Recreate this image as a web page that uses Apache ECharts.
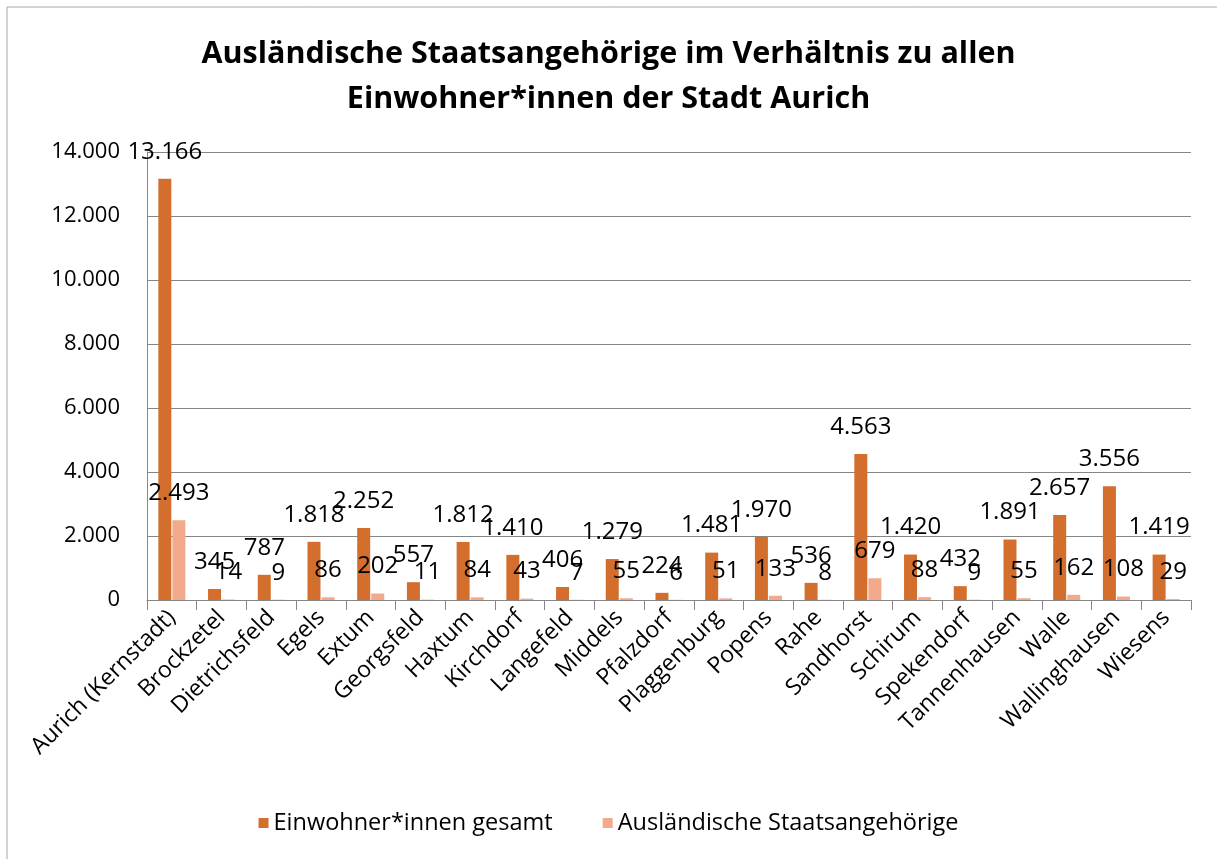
<!DOCTYPE html>
<html><head><meta charset="utf-8">
<script src="https://cdn.jsdelivr.net/npm/echarts@6/dist/echarts.min.js"></script>
<style>html,body{margin:0;padding:0;background:#fff;}#c{width:1217px;height:859px;}</style>
</head><body><div id="c"></div>
<script>
const categories = ["Aurich (Kernstadt)","Brockzetel","Dietrichsfeld","Egels","Extum","Georgsfeld","Haxtum","Kirchdorf","Langefeld","Middels","Pfalzdorf","Plaggenburg","Popens","Rahe","Sandhorst","Schirum","Spekendorf","Tannenhausen","Walle","Wallinghausen","Wiesens"];
const einwohner = [13166,345,787,1818,2252,557,1812,1410,406,1279,224,1481,1970,536,4563,1420,432,1891,2657,3556,1419];
const auslaender = [2493,14,9,86,202,11,84,43,7,55,6,51,133,8,679,88,9,55,162,108,29];
const seriesNames = ["Einwohner*innen gesamt","Ausländische Staatsangehörige"];
const titleText = "Ausländische Staatsangehörige im Verhältnis zu allen\nEinwohner*innen der Stadt Aurich";

const FONT = "'Open Sans', sans-serif";
const fmt = v => String(v).replace(/\B(?=(\d{3})+(?!\d))/g, ".");
const chart = echarts.init(document.getElementById('c'));
const labelCfg = {show:true, position:'top', distance:15, color:'#000', fontSize:24, fontFamily:FONT, formatter:p=>fmt(p.value)};
chart.setOption({
  animation:false,
  backgroundColor:'#fff',
  graphic:[{type:'rect', shape:{x:7,y:7,width:1300,height:1000}, style:{fill:'none', stroke:'#a6a6a6', lineWidth:1}, silent:true}],
  title:{text:titleText, left:'center', top:27, textStyle:{fontFamily:FONT, fontWeight:'bold', fontSize:30.5, lineHeight:45, color:'#000'}},
  grid:{left:147, right:26, top:152, bottom:259, containLabel:false},
  legend:{bottom:19, left:'center', itemWidth:10, itemHeight:10, itemGap:50, icon:'rect',
    textStyle:{fontFamily:FONT, fontSize:23.5, color:'#000'}, data:seriesNames},
  xAxis:{type:'category', data:categories,
    axisLine:{lineStyle:{color:'#868686'}},
    axisTick:{show:true, length:10, lineStyle:{color:'#868686'}},
    axisLabel:{rotate:45, interval:0, margin:14, color:'#000', fontSize:23, fontFamily:FONT}},
  yAxis:{type:'value', min:0, max:14000, interval:2000,
    axisLine:{show:true, lineStyle:{color:'#868686'}},
    axisTick:{show:false},
    splitLine:{lineStyle:{color:'#868686'}},
    axisLabel:{margin:27, color:'#000', fontSize:22, fontFamily:FONT, formatter:v=>fmt(v)}},
  series:[
    {name:seriesNames[0], type:'bar', data:einwohner, barWidth:13, barGap:'8%', barCategoryGap:'40%',
      itemStyle:{color:'#D46E2C'}, label:labelCfg},
    {name:seriesNames[1], type:'bar', data:auslaender, barWidth:13,
      itemStyle:{color:'#F2A98C'}, label:labelCfg}
  ]
});
</script></body></html>
